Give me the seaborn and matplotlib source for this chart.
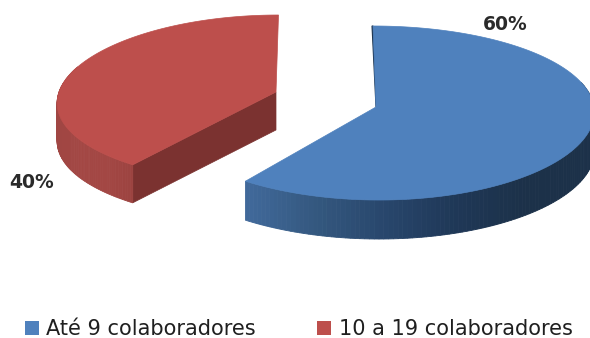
import numpy as np
import matplotlib
matplotlib.use("Agg")
import matplotlib.pyplot as plt
from matplotlib.patches import Patch
import seaborn as sns

# --- data
categories = ["Até 9 colaboradores", "10 a 19 colaboradores"]
shares = [60, 40]
value_labels = ["60%", "40%"]

# --- style / geometry (pixel space of the 590x338 picture)
top_colors = ["#4f81bd", "#bd4f4c"]
rim_stops = [["#41699b", "#34587f", "#28466c", "#1f3857", "#1c3149", "#1c3149"],
             ["#a04643", "#a34744", "#a34744", "#9c4340"]]
cut_colors = ["#1f3650", "#7b3230"]
centers = [(376, 107), (276, 92)]
radii = [(218, 86.6), (217, 83.7)]
persp_y = [0.069, 0.087]
persp_x = [0.045, 0.12]
skews = [-3, 2.5]
depths = [39, 38]
label_pos = [(505, 24), (32, 182)]

sns.set_theme(style="white")
fig = plt.figure(figsize=(5.9, 3.38), dpi=100)
ax = fig.add_axes([0, 0, 1, 1])
ax.set_xlim(0, 590)
ax.set_ylim(338, 0)
ax.axis("off")


def project(t, i):
    """Clockwise angle from 12 o'clock -> picture pixels, with mild perspective."""
    u, v = np.sin(t), np.cos(t)
    cx, cy = centers[i]
    rx, ry = radii[i]
    return (cx + rx * u / (1 + persp_x[i] * v) + skews[i] * v,
            cy - ry * v / (1 + persp_y[i] * v))


edges = np.concatenate([[0], np.cumsum(shares)]) / np.sum(shares) * 2 * np.pi

for i in range(len(shares)):
    t = np.linspace(edges[i], edges[i + 1], 181)
    x, y = project(t, i)
    d = depths[i]
    cx, cy = centers[i]

    # cut faces
    if i == 1:
        ax.fill([x[0], cx, cx, x[0]], [y[0], cy, cy + d, y[0] + d],
                color=cut_colors[i], lw=0.5, zorder=1)
    else:
        ax.fill([x[0], cx + 1, cx, x[0] - 1], [y[0], cy, cy, y[0]],
                color=cut_colors[i], lw=0.8, zorder=1)

    # rim with a left-to-right gradient (only the front of the arc shows)
    cmap = sns.blend_palette(rim_stops[i], as_cmap=True)
    front = np.cos(t) < 0.3
    lo, hi = x[front].min(), x[front].max()
    for a in range(len(t) - 1):
        if not front[a]:
            continue
        mid = (x[a] + x[a + 1]) / 2
        c = cmap((mid - lo) / (hi - lo))
        ax.fill([x[a], x[a + 1], x[a + 1], x[a]],
                [y[a], y[a + 1], y[a + 1] + d, y[a] + d],
                facecolor=c, edgecolor=c, lw=0.6, zorder=1)

    # top surface
    ax.fill(np.r_[cx, x], np.r_[cy, y], facecolor=top_colors[i],
            edgecolor=top_colors[i], lw=0.5, zorder=2)

    ax.text(*label_pos[i], value_labels[i], ha="center", va="center",
            fontsize=13.5, fontweight="bold", color="#2a2a2a",
            family="DejaVu Sans", zorder=3)

handles = [Patch(facecolor=c, edgecolor="none", label=l)
           for c, l in zip(top_colors, categories)]
ax.legend(handles=handles, ncol=2, frameon=False, loc="center left",
          bbox_to_anchor=(25 / 590, 1 - 329 / 338), borderpad=0, borderaxespad=0,
          prop={"family": "DejaVu Sans", "size": 15},
          handlelength=0.67, handleheight=0.67, handletextpad=0.36,
          columnspacing=2.93, labelcolor="#1f1f1f")

fig.savefig("out.png", dpi=100)
